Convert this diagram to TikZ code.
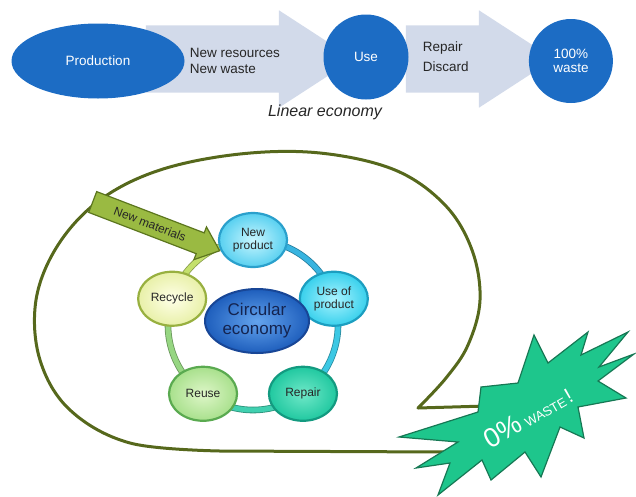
\documentclass[tikz,border=0pt]{standalone}
\usepackage{fontspec}
\setmainfont{Liberation Sans}
\usepackage{xcolor}
\usepackage{tikz}
\usetikzlibrary{shapes.geometric,shapes.arrows,positioning}

\definecolor{linblue}{RGB}{28,108,196}
\definecolor{arrgray}{RGB}{210,218,234}
\definecolor{bubolive}{RGB}{86,104,28}
\definecolor{matfill}{RGB}{154,186,66}
\definecolor{matdraw}{RGB}{92,118,30}
\definecolor{burst}{RGB}{30,198,140}
\definecolor{burstdraw}{RGB}{22,120,84}
\definecolor{cenin}{RGB}{100,164,238}
\definecolor{cenout}{RGB}{30,94,188}
\definecolor{cendraw}{RGB}{24,70,150}
\definecolor{centext}{RGB}{20,36,80}
\definecolor{c1a}{RGB}{200,246,255}\definecolor{c1b}{RGB}{88,208,240}\definecolor{c1c}{RGB}{42,160,204}
\definecolor{c2a}{RGB}{170,244,255}\definecolor{c2b}{RGB}{56,208,236}\definecolor{c2c}{RGB}{28,158,192}
\definecolor{c3a}{RGB}{112,232,200}\definecolor{c3b}{RGB}{32,200,160}\definecolor{c3c}{RGB}{19,154,128}
\definecolor{c4a}{RGB}{222,246,200}\definecolor{c4b}{RGB}{168,224,140}\definecolor{c4c}{RGB}{90,170,80}
\definecolor{c5a}{RGB}{255,255,232}\definecolor{c5b}{RGB}{232,240,168}\definecolor{c5c}{RGB}{152,176,64}
\definecolor{rg1}{RGB}{56,180,224}
\definecolor{rg2}{RGB}{60,200,228}
\definecolor{rg3}{RGB}{64,208,176}
\definecolor{rg4}{RGB}{150,214,130}
\definecolor{rg5}{RGB}{196,224,108}

\tikzset{
  linnode/.style={ellipse, fill=linblue, text=white, inner sep=0pt, align=center, font=\fontsize{13.5}{16}\selectfont},
  bigarrow/.style={single arrow, fill=arrgray, inner xsep=0pt, inner ysep=33.5pt, minimum width=97pt, single arrow head extend=15pt, single arrow tip angle=66},
  linlabel/.style={align=left, inner sep=0pt, text=black!85},
  cycnode/.style={ellipse, minimum width=68pt, minimum height=54pt, inner sep=0pt, line width=2.2pt, align=center, text=black!85, font=\fontsize{12}{13.5}\selectfont},
  bubble/.style={draw=bubolive, line width=3pt, line join=round}
}

\begin{document}
\begin{tikzpicture}[x=1pt,y=-1pt]
\useasboundingbox (0,0) rectangle (636,496);

\node[bigarrow, minimum height=208pt] (ar1) at (224,59) {};
\node[bigarrow, minimum height=148pt] (ar2) at (454,59) {};
\node[linnode, minimum width=173pt, minimum height=75pt] (prod) at (98,61) {Production};
\node[linnode, minimum width=85pt, minimum height=85pt] (use) at (366,57) {Use};
\node[linnode, minimum width=84pt, minimum height=84pt, font=\fontsize{13.5}{14.5}\selectfont, right=120pt of use, yshift=-4pt] (waste) {100\%\\waste};
\node[linlabel, font=\fontsize{13.5}{16.5}\selectfont, right=5pt of prod] (lab1) {New resources\\New waste};
\node[linlabel, font=\fontsize{13.5}{20}\selectfont, right=14pt of use] (lab2) {Repair\\Discard};
\node[text=black!85, font=\fontsize{16}{18}\selectfont\itshape] (lin) at (325,112) {Linear economy};

\draw[bubble] (486,406) -- plot[smooth, tension=0.6] coordinates {(418,408) (446,378) (468,345) (480,300) (472,250) (445,205) (395,170) (320,153) (240,154) (160,170) (100,200) (58,245) (36,300) (40,360) (70,410) (130,443) (220,451)} -- (446,452);

\coordinate (rc) at (253,325);
\foreach \a/\cl in {-90/rg1,-18/rg2,54/rg3,126/rg4,198/rg5}
  \draw[draw=\cl!70!black, double=\cl, double distance=5pt, line width=0.8pt] ([shift={(\a:85)}]rc) arc[start angle=\a, end angle=\a+72, radius=85];

\foreach \a/\nm/\txt/\k in {-90/cyc1/{New\\product}/1, -18/cyc2/{Use of\\product}/2, 54/cyc3/{Repair}/3, 126/cyc4/{Reuse}/4, 198/cyc5/{Recycle}/5}
  \node[cycnode, draw=c\k c, inner color=c\k a, outer color=c\k b] (\nm) at ([shift={(\a:85)}]rc) {\txt};

\node[ellipse, minimum width=104pt, minimum height=64pt, inner sep=0pt, line width=2pt, draw=cendraw, inner color=cenin, outer color=cenout, text=centext, align=center, font=\fontsize{17}{19}\selectfont] (cen) at (257,321) {Circular\\economy};

\node[single arrow, rotate=-21, minimum height=136pt, minimum width=35pt, single arrow head extend=6pt, single arrow tip angle=80, inner xsep=0pt, inner ysep=5.5pt, fill=matfill, draw=matdraw, line width=1.2pt, text=black!85, font=\fontsize{12}{14}\selectfont] (mat) at (150,224) {New materials};

\draw[fill=burst, draw=burstdraw, line width=1.2pt, line join=miter] (399,437) -- (478,412) -- (481,387) -- (518,383) -- (534,335) -- (548,363) -- (588,332) -- (581,355) -- (628,332) -- (599,367) -- (634,354) -- (598,381) -- (626,398) -- (578,407) -- (584,438) -- (560,427) -- (541,477) -- (525,452) -- (491,480) -- (482,460) -- (438,495) -- (450,463) -- (416,468) -- (458,442) -- cycle;
\node[rotate=30, text=white, inner sep=0pt] (zero) at (528,417) {\fontsize{27}{27}\selectfont 0\%\,\fontsize{13}{13}\selectfont WASTE\,\fontsize{21}{21}\selectfont !};
\end{tikzpicture}
\end{document}
